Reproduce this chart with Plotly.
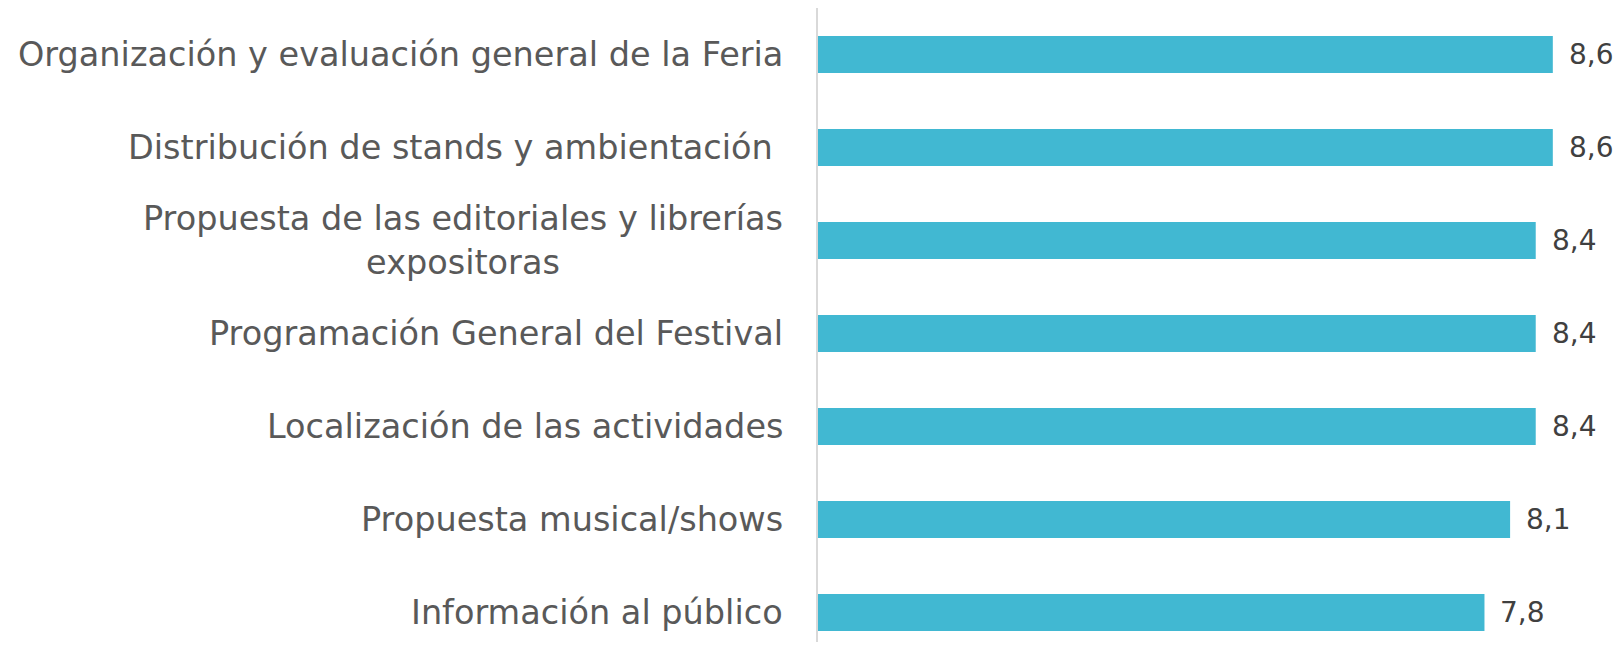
import plotly.graph_objects as go

categories = [
    "Organización y evaluación general de la Feria",
    "Distribución de stands y ambientación\u00a0",
    "Propuesta de las editoriales y librerías<br>expositoras",
    "Programación General del Festival",
    "Localización de las actividades",
    "Propuesta musical/shows",
    "Información al público",
]
values = [8.6, 8.6, 8.4, 8.4, 8.4, 8.1, 7.8]
value_labels = ["8,6", "8,6", "8,4", "8,4", "8,4", "8,1", "7,8"]

FONT = "DejaVu Sans"
BAR_COLOR = "#41B8D2"

fig = go.Figure(go.Bar(
    y=list(range(len(categories))),
    x=values,
    orientation="h",
    width=0.4,
    marker=dict(color=BAR_COLOR, line=dict(width=0)),
    hoverinfo="skip",
))

annotations = []
for i, (c, v, t) in enumerate(zip(categories, values, value_labels)):
    annotations.append(dict(
        x=0, xref="paper", y=i, yref="y", text=c, showarrow=False,
        xanchor="right", yanchor="middle", align="center", xshift=-33,
        font=dict(family=FONT, size=33.5, color="#595959"),
    ))
    annotations.append(dict(
        x=v, xref="x", y=i, yref="y", text=t, showarrow=False,
        xanchor="left", yanchor="middle", xshift=14,
        font=dict(family=FONT, size=28, color="#404040"),
    ))

fig.update_layout(
    width=1613, height=634,
    margin=dict(l=810, r=34, t=0, b=0),
    paper_bgcolor="white", plot_bgcolor="white",
    showlegend=False,
    annotations=annotations,
    xaxis=dict(range=[0, 9], visible=False, showgrid=False, zeroline=False),
    yaxis=dict(range=[6.317, -0.5], showticklabels=False, showgrid=False,
               zeroline=False, showline=True, linecolor="#d9d9d9", linewidth=2,
               ticks=""),
)

fig.write_html("out.html")
